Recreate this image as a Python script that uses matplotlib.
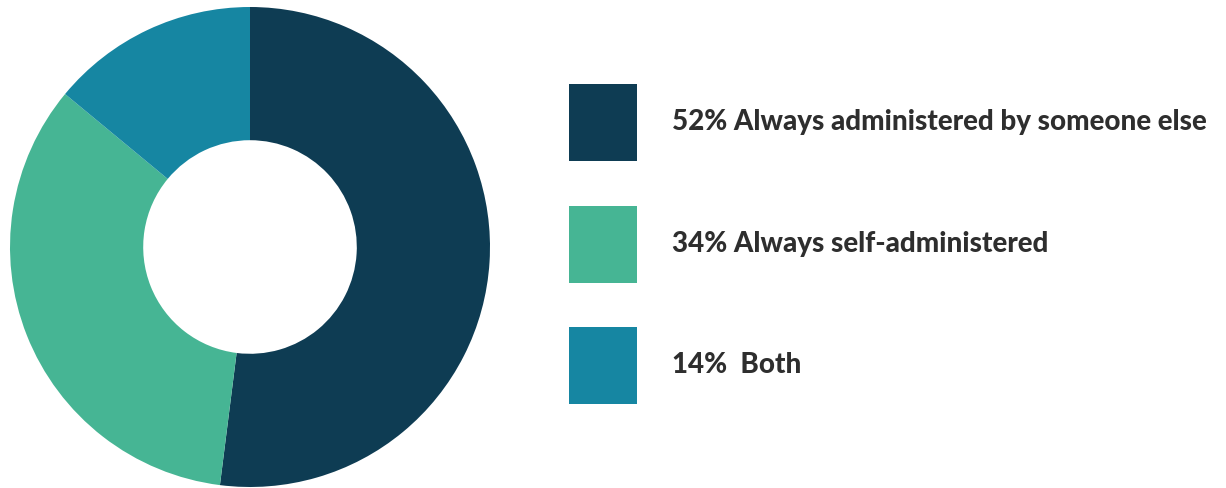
import matplotlib.pyplot as plt

labels = ["52% Always administered by someone else",
          "34% Always self-administered",
          "14%  Both"]
values = [52, 34, 14]
colors = ["#0E3C53", "#46B594", "#1686A2"]

W, H = 1226, 488
fig = plt.figure(figsize=(W / 100, H / 100), dpi=100)

# donut on the left
ax = fig.add_axes([10 / W, 1 / H, 480 / W, 480 / H])
wedges, _ = ax.pie(values, colors=colors, startangle=90, counterclock=False,
                   radius=1, wedgeprops=dict(width=0.555, linewidth=0))
ax.set_xlim(-1, 1)
ax.set_ylim(-1, 1)
ax.set_aspect("equal")
ax.axis("off")

# legend with big square swatches
fs = 20
px = fs * 100 / 72  # font size in pixels
box_w, box_h = 68, 77
hh = ((box_h * 0.72) / fs - 0.245) / 0.65
fig.legend(wedges, labels, loc="upper left",
           bbox_to_anchor=(569 / W, 1 - 84 / H), bbox_transform=fig.transFigure,
           frameon=False, borderpad=0, borderaxespad=0,
           handlelength=box_w / px, handleheight=hh,
           handletextpad=35 / px, labelspacing=44.5 / px,
           prop=dict(family="Lato", weight="black", size=fs),
           labelcolor="#2e2e2e")

fig.savefig("out.png", dpi=100)
